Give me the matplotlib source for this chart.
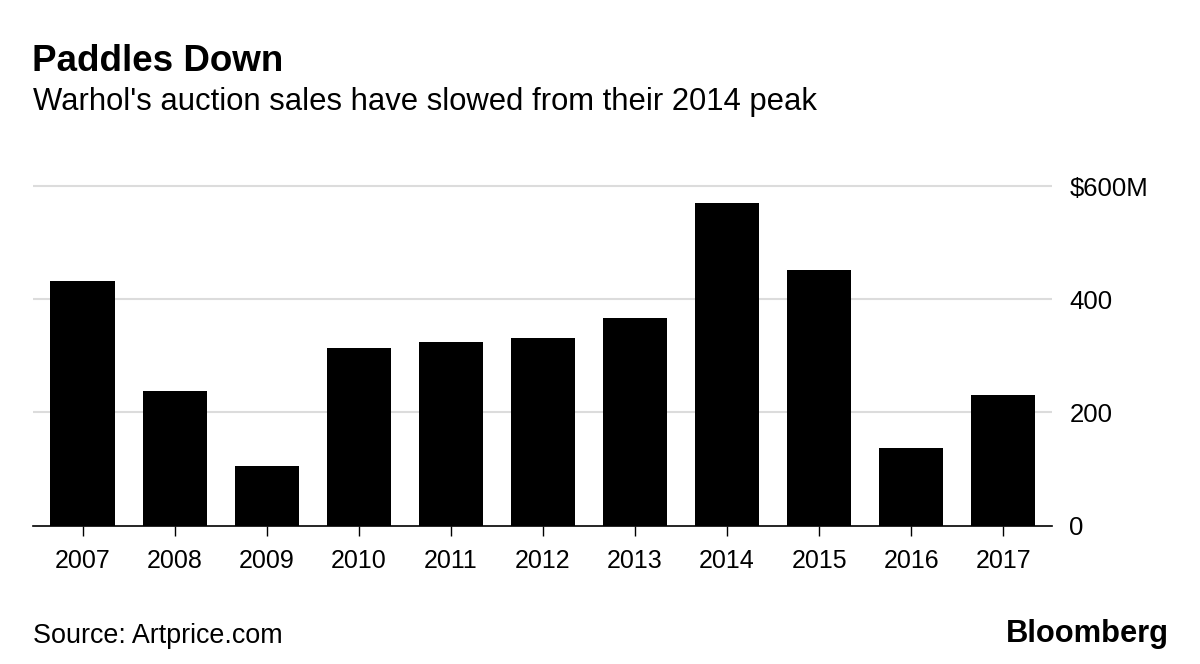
import matplotlib.pyplot as plt

years = ["2007", "2008", "2009", "2010", "2011", "2012",
         "2013", "2014", "2015", "2016", "2017"]
sales = [432, 238, 106, 313, 325, 331, 366, 570, 451, 137, 231]  # $M
y_ticks = [0, 200, 400, 600]
y_labels = ["0", "200", "400", "$600M"]

plt.rcParams['font.family'] = ['Liberation Sans', 'DejaVu Sans']

W, H = 1200, 664
fig = plt.figure(figsize=(W / 100, H / 100), dpi=100)

# axes placed in pixel terms: left 33, right 1052, baseline 525.5
ax = fig.add_axes([33 / W, 1 - 525.5 / H, (1052 - 33) / W, (525.5 - 174.7) / H])

x = range(len(years))
ax.bar(x, sales, width=0.7, color='black', zorder=3)

ax.set_xlim(-0.54, 10.53)
ax.set_ylim(0, 620)

ax.set_yticks(y_ticks)
ax.set_yticklabels(y_labels)
ax.yaxis.tick_right()
ax.tick_params(axis='y', length=0, pad=12.5, labelsize=18.5)
for v in y_ticks[1:]:
    ax.axhline(v, color='#dcdcdc', linewidth=1.5, zorder=1)

ax.set_xticks(list(x))
ax.set_xticklabels(years)
ax.tick_params(axis='x', length=7, width=1, color='black', pad=10, labelsize=18)

for side in ['top', 'left', 'right']:
    ax.spines[side].set_visible(False)
ax.spines['bottom'].set_linewidth(1.2)
ax.spines['bottom'].set_zorder(4)

# texts
fig.text(32 / W, 1 - 71 / H, "Paddles Down", fontsize=26.5, fontweight='bold',
         ha='left', va='baseline')
fig.text(33 / W, 1 - 110 / H, "Warhol's auction sales have slowed from their 2014 peak",
         fontsize=22.3, ha='left', va='baseline')
fig.text(33 / W, 1 - 643 / H, "Source: Artprice.com", fontsize=19.4,
         ha='left', va='baseline')
fig.text(1169 / W, 1 - 641.7 / H, "Bloomberg", fontsize=22.2, fontweight='bold',
         ha='right', va='baseline')

fig.savefig("out.png", dpi=100)
